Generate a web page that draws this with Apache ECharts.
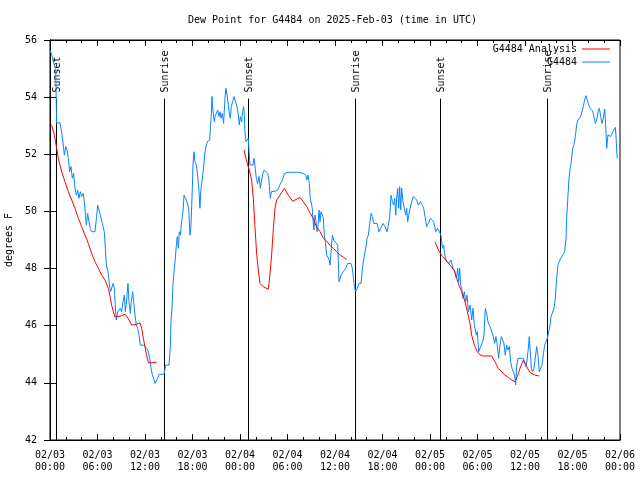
<!DOCTYPE html>
<html>
<head>
<meta charset="utf-8">
<script src="https://cdn.jsdelivr.net/npm/echarts@6/dist/echarts.min.js"></script>
<style>html,body{margin:0;padding:0;background:#fff}#c{width:640px;height:480px}</style>
</head>
<body>
<div id="c"></div>
<script>
// Hours since 2025-02-03 00:00 UTC
var obsTimes = [0,0.29,0.55,0.72,0.76,0.84,1.22,1.35,1.47,1.68,1.81,1.98,2.15,2.32,2.48,2.65,2.82,2.99,3.16,3.33,3.49,3.66,3.83,4.0,4.21,4.34,4.51,4.59,4.76,4.93,5.09,5.26,5.47,5.68,5.89,6.02,6.19,6.36,6.61,6.86,6.99,7.12,7.28,7.37,7.49,7.66,7.79,7.96,8.13,8.21,8.38,8.55,8.72,8.88,9.05,9.22,9.39,9.52,9.68,9.85,9.98,10.15,10.27,10.44,10.57,10.74,10.91,11.07,11.24,11.41,11.58,11.83,12.0,12.21,12.42,12.63,12.76,12.93,13.09,13.26,13.43,13.6,13.77,14.1,14.4,14.61,15.03,15.2,15.28,15.41,15.54,15.71,15.83,15.96,16.08,16.21,16.34,16.46,16.63,16.8,16.93,17.05,17.22,17.39,17.52,
17.68,17.81,17.98,18.06,18.19,18.31,18.48,18.65,18.82,18.94,19.07,19.24,19.41,19.58,19.74,19.91,20.17,20.25,20.38,20.46,20.59,20.76,20.84,21.01,21.18,21.34,21.47,21.6,21.77,21.93,22.1,22.23,22.36,22.52,22.65,22.78,22.9,23.07,23.24,23.45,23.62,23.79,23.91,24.04,24.21,24.33,24.46,24.55,24.63,24.76,24.88,25.05,25.13,25.26,25.47,25.64,25.77,25.89,26.06,26.23,26.4,26.57,26.73,26.9,27.07,27.32,27.49,27.66,27.83,27.96,28.17,28.5,28.76,29.01,29.26,29.43,29.6,30.1,30.73,31.37,32.0,32.29,32.46,32.59,32.76,32.84,32.97,33.13,33.22,33.34,33.47,33.6,33.73,33.85,33.98,34.11,34.23,34.4,34.53,34.65,34.78,34.95,35.16,35.28,
35.37,35.67,35.83,36.34,36.51,36.76,37.06,37.35,37.6,38.02,38.19,38.45,38.61,38.82,39.03,39.29,39.46,39.71,39.88,40.05,40.21,40.38,40.55,40.72,40.89,41.31,41.56,41.81,42.07,42.32,42.57,42.74,42.91,43.08,43.25,43.41,43.54,43.67,43.79,43.92,44.05,44.17,44.3,44.42,44.59,44.76,44.93,45.06,45.18,45.31,45.48,45.69,45.9,46.11,46.32,46.53,46.78,47.03,47.2,47.37,47.58,47.79,48.05,48.3,48.47,48.72,48.97,49.22,49.39,49.56,49.73,49.9,50.11,50.4,50.66,50.91,51.16,51.33,51.5,51.62,51.75,51.88,52.0,52.17,52.34,52.51,52.68,52.85,53.06,53.27,53.43,53.6,
53.72,53.85,53.98,54.14,54.31,54.48,54.65,54.82,54.99,55.16,55.32,55.49,55.66,55.83,56.0,56.17,56.33,56.5,56.67,56.84,57.01,57.18,57.34,57.51,57.68,57.85,58.02,58.19,58.36,58.52,58.69,58.82,58.94,59.11,59.37,59.62,59.79,59.96,60.12,60.29,60.42,60.54,60.67,60.8,60.97,61.13,61.3,61.47,61.64,61.81,61.98,62.14,62.31,62.48,62.65,62.82,62.94,63.16,63.28,63.45,63.66,63.83,64.0,64.17,64.33,64.5,64.76,65.01,65.18,65.26,65.43,65.56,65.68,65.85,66.02,66.19,66.36,66.52,66.69,66.86,67.03,67.2,67.37,67.53,67.7,67.87,68.04,68.21,68.38,68.55,68.71,68.88,69.05,69.22,69.39,69.56,69.73,69.89,70.06,70.19,70.32,70.48,70.65,70.82,71.07,71.24,71.41,71.49,71.58,71.66];
var obsValues = [55.65,55.42,55.12,55.0,54.3,53.08,53.12,53.16,52.79,52.32,51.97,52.27,52.15,51.86,51.39,51.57,51.16,51.33,50.81,50.57,50.75,50.46,50.69,50.52,50.63,50.34,50.28,49.52,49.93,49.64,49.41,49.29,49.29,49.29,49.82,50.22,50.05,49.87,49.58,49.29,48.71,48.12,48.12,47.83,47.48,47.19,47.19,47.48,47.31,46.84,46.2,46.49,46.43,46.61,46.49,46.84,47.07,46.49,46.9,47.48,46.84,46.43,46.84,47.19,46.84,46.37,46.02,45.91,45.67,45.32,45.32,45.32,45.27,45.21,45.09,44.8,44.51,44.27,44.16,43.98,43.98,44.16,44.3,44.3,44.3,44.62,44.62,45.27,46.14,46.61,47.48,48.01,48.36,48.82,49.12,48.71,49.29,49.17,49.64,49.99,50.57,50.52,50.4,50.34,50.11,
49.17,49.52,50.81,51.62,52.09,51.74,51.62,51.27,50.69,50.11,50.81,51.16,51.57,52.09,52.32,52.46,52.5,52.85,53.43,54.02,53.49,53.14,53.32,53.38,53.55,53.32,53.49,53.26,53.43,53.08,53.96,54.31,54.08,53.73,53.43,53.26,53.67,53.84,54.02,54.02,53.67,53.38,53.03,53.32,53.14,53.49,53.67,53.38,52.73,52.44,52.44,52.56,52.15,51.62,51.56,51.62,51.86,51.62,51.16,50.98,51.22,50.81,51.1,51.33,51.45,51.45,51.33,51.1,50.46,50.69,50.75,50.71,50.75,50.92,51.04,51.16,51.33,51.37,51.37,51.37,51.33,51.27,51.1,51.27,50.98,50.57,50.34,50.11,49.7,49.35,49.87,49.64,49.29,49.47,50.05,49.64,49.99,49.87,49.76,49.17,48.94,48.47,48.41,48.3,
48.12,49.17,49.0,48.82,47.54,47.77,47.89,48.01,48.18,48.18,48.01,47.37,47.19,47.31,47.48,47.48,48.01,48.47,48.71,49.06,49.17,49.23,49.93,49.82,49.58,49.58,49.29,49.29,49.58,49.47,49.29,49.52,49.82,50.57,50.34,50.22,50.46,49.87,50.46,50.81,50.11,50.87,50.05,50.81,50.34,50.11,49.87,50.11,49.64,49.87,50.11,50.34,50.52,50.57,50.4,50.22,50.34,50.22,50.11,49.82,49.47,49.58,49.76,49.82,49.64,49.29,49.41,49.43,49.17,48.71,48.82,48.42,48.24,48.18,48.3,48.01,47.89,47.66,48.01,47.54,48.01,47.42,47.31,46.96,47.19,46.84,47.07,46.49,46.72,46.2,46.61,46.02,
45.97,45.67,45.79,45.09,45.15,45.32,45.44,45.67,46.61,46.43,46.14,46.02,45.91,45.91,45.62,45.38,45.62,45.32,44.86,45.32,45.62,45.56,45.38,44.97,45.32,45.15,45.27,44.74,44.51,44.56,44.27,43.92,44.56,44.86,44.86,44.86,44.86,44.92,44.56,44.86,45.21,45.62,45.09,44.51,44.39,44.51,44.86,45.27,44.97,44.39,44.33,44.62,44.97,45.32,45.44,45.56,45.62,46.02,46.31,46.37,46.61,46.96,47.66,48.12,48.24,48.36,48.47,48.59,49.06,49.76,50.57,51.16,51.45,51.74,52.21,52.33,52.62,53.03,53.2,53.14,53.32,53.49,53.67,53.9,54.05,54.02,53.73,53.61,53.55,53.52,53.49,53.08,53.2,53.49,53.61,53.32,53.08,53.26,53.58,53.03,52.21,52.68,52.68,52.62,52.68,52.86,52.94,52.68,52.15,51.86];

// Analysis: null separates runs
var anaTimes = [0.21,0.55,0.84,1.05,1.47,1.89,2.32,2.74,3.16,3.58,4.0,4.42,4.84,5.26,5.68,6.11,6.53,6.95,7.37,7.58,7.79,8.0,8.21,8.42,8.72,9.05,9.47,9.73,9.98,10.32,10.57,10.91,11.37,11.58,11.79,12.0,12.21,12.42,12.76,13.47,
13.5,
24.5,24.85,25.17,25.47,25.68,25.89,26.1,26.31,26.53,26.95,27.58,27.79,28.0,28.2,28.42,28.63,29.05,29.6,30.1,30.65,31.16,31.58,32.0,32.42,32.88,33.26,33.6,34.1,34.53,34.95,35.4,35.79,36.21,36.63,37.05,37.47,
37.5,
48.63,49.06,49.48,49.98,50.53,51.03,51.37,51.67,52.0,52.42,52.72,53.05,53.26,53.6,53.98,54.32,54.74,55.37,55.79,56.21,56.63,57.05,57.47,57.89,58.32,58.74,59.03,59.37,59.79,60.21,60.63,61.26,61.81];
var anaValues = [53.02,52.67,52.21,51.86,51.39,51.04,50.69,50.4,50.11,49.76,49.47,49.17,48.88,48.53,48.24,48.01,47.77,47.6,47.31,47.02,46.72,46.49,46.3,46.25,46.33,46.35,46.4,46.32,46.2,46.02,45.96,46.05,46.1,45.91,45.56,45.25,44.95,44.72,44.7,44.72,
null,
52.15,51.74,51.45,51.1,50.46,49.47,48.53,47.95,47.48,47.36,47.28,47.83,48.5,49.35,50.11,50.4,50.57,50.81,50.57,50.36,50.43,50.49,50.34,50.17,49.93,49.75,49.5,49.3,49.06,48.96,48.8,48.71,48.59,48.48,48.4,48.32,
null,
48.94,48.65,48.47,48.3,48.12,47.95,47.66,47.4,47.2,46.84,46.49,46.08,45.67,45.32,45.09,44.98,44.94,44.94,44.94,44.74,44.51,44.39,44.27,44.19,44.1,44.04,44.22,44.51,44.8,44.57,44.36,44.27,44.24];

var eventTimes = [0.8, 14.4, 25.05, 38.57, 49.3, 62.82];
var eventLabels = ['Sunset','Sunrise','Sunset','Sunrise','Sunset','Sunrise'];
var xTicks = [0,6,12,18,24,30,36,42,48,54,60,66,72];
var yMin = 42, yMax = 56, yStep = 2;

var FONT = 'DejaVu Sans Mono';
var obsData = obsTimes.map(function(t,i){return [t, obsValues[i]];});
var anaData = anaTimes.map(function(t,i){return [t, anaValues[i]];});
var eventData = eventTimes.map(function(t,i){return [t, i];});
var LINE_TOP = 53.95;

function fmtX(v){
  var d = 3 + Math.floor(v/24);
  var h = v % 24;
  return '02/0' + d + '\n' + (h<10?'0':'') + h + ':00';
}

var chart = echarts.init(document.getElementById('c'), null, {renderer:'canvas'});
var tickCommon = {show:true, inside:true, length:6, lineStyle:{color:'#000'}};
var legendText = {fontFamily:FONT, fontSize:10, color:'#000'};
chart.setOption({
  animation:false,
  backgroundColor:'#fff',
  title:{text:'Dew Point for G4484 on 2025-Feb-03 (time in UTC)', left:188, top:15, padding:0,
    textStyle:{fontFamily:FONT, fontSize:10, fontWeight:'normal', color:'#000'}},
  legend:[
    {data:[{name:'G4484 Analysis', icon:'rect'}], right:30, top:44, padding:0, align:'right', itemWidth:28, itemHeight:1,
      textStyle:legendText},
    {data:[{name:'G4484', icon:'rect'}], right:30, top:57, padding:0, align:'right', itemWidth:28, itemHeight:1,
      textStyle:legendText}
  ],
  grid:{left:50, right:20, top:40, bottom:40, show:true, borderColor:'#000', borderWidth:1,
    backgroundColor:'transparent', containLabel:false, outerBoundsMode:'none'},
  xAxis:[
    {type:'value', min:0, max:72, interval:6, position:'bottom',
      axisLine:{show:true, lineStyle:{color:'#000'}}, axisTick:tickCommon,
      minorTick:{show:true, splitNumber:3, length:3, lineStyle:{color:'#000'}},
      splitLine:{show:false},
      axisLabel:{formatter:fmtX, fontFamily:FONT, fontSize:10, color:'#000', lineHeight:12, margin:9, showMinLabel:true, showMaxLabel:true}},
    {type:'value', min:0, max:72, interval:6, position:'top',
      axisLine:{show:true, lineStyle:{color:'#000'}}, axisTick:tickCommon,
      minorTick:{show:true, splitNumber:3, length:3, lineStyle:{color:'#000'}},
      splitLine:{show:false}, axisLabel:{show:false}}
  ],
  yAxis:[
    {type:'value', min:yMin, max:yMax, interval:yStep, position:'left',
      name:'degrees F', nameLocation:'middle', nameGap:36, nameRotate:90,
      nameTextStyle:{fontFamily:FONT, fontSize:10, color:'#000'},
      axisLine:{show:true, lineStyle:{color:'#000'}}, axisTick:tickCommon,
      splitLine:{show:false},
      axisLabel:{fontFamily:FONT, fontSize:10, color:'#000', margin:13}},
    {type:'value', min:yMin, max:yMax, interval:yStep, position:'right',
      axisLine:{show:true, lineStyle:{color:'#000'}}, axisTick:tickCommon,
      splitLine:{show:false}, axisLabel:{show:false}}
  ],
  series:[
    {type:'custom', name:'events', xAxisIndex:0, yAxisIndex:0, data:eventData, encode:{x:0}, silent:true, clip:false, z:1,
      renderItem:function(params, api){
        var t = api.value(0);
        var lbl = eventLabels[api.value(1)];
        var p0 = api.coord([t, yMin]);
        var p1 = api.coord([t, LINE_TOP]);
        var x = Math.round(p0[0]) + 0.5;
        return {type:'group', children:[
          {type:'line', shape:{x1:x, y1:p0[1], x2:x, y2:p1[1]}, style:{stroke:'#000', lineWidth:1}},
          {type:'text', x:x + 1, y:p1[1] - 6, rotation:Math.PI/2,
            style:{text:lbl, fill:'#000', font:'10px ' + FONT, align:'left', verticalAlign:'middle'}}
        ]};
      }},
    {type:'line', name:'G4484 Analysis', data:anaData, symbol:'none', showSymbol:false, connectNulls:false, z:3,
      lineStyle:{color:'#ff0000', width:1}, itemStyle:{color:'#ff0000'}},
    {type:'line', name:'G4484', data:obsData, symbol:'none', showSymbol:false, z:2,
      lineStyle:{color:'#0a84ff', width:1}, itemStyle:{color:'#0a84ff'}}
  ]
});
</script>
</body>
</html>
